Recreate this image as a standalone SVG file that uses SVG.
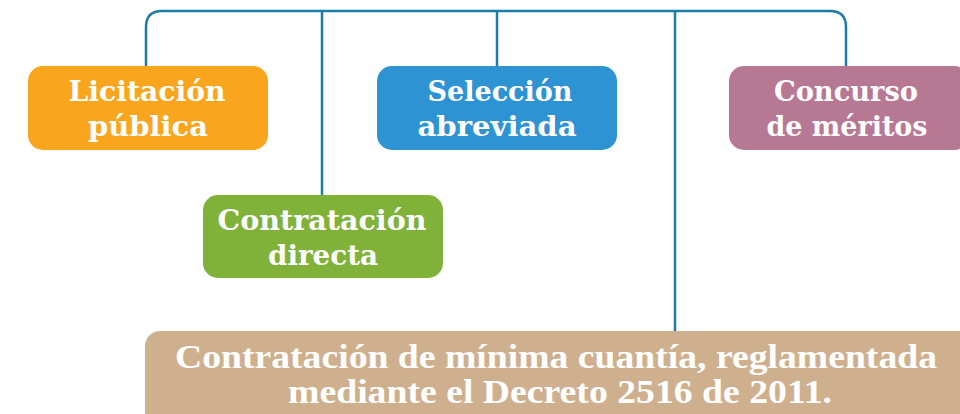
<svg xmlns="http://www.w3.org/2000/svg" width="960" height="414" viewBox="0 0 960 414">
<style>
.c{fill:none;stroke:#1B7CA6;stroke-width:2.5}
.t{font-family:"DejaVu Serif","Liberation Serif",serif;font-weight:bold;font-size:28px;fill:#fff;text-anchor:middle}
.b{font-family:"Liberation Serif","DejaVu Serif",serif;font-weight:bold;font-size:34px;fill:#fff;text-anchor:middle}
</style>
<rect width="960" height="414" fill="#fff"/>
<g id="connectors">
<path class="c" d="M146,66 V27 Q146,11 162,11 H830 Q846,11 846,27 V66"/>
<path class="c" d="M322,11 V195"/>
<path class="c" d="M497,11 V66"/>
<path class="c" d="M675,11 V331"/>
</g>
<g id="licitacion">
<rect x="28" y="66" width="240" height="84" rx="15" fill="#F9A61E"/>
<text class="t" x="147" y="101" textLength="157" lengthAdjust="spacingAndGlyphs">Licitación</text>
<text class="t" x="148" y="136" textLength="120" lengthAdjust="spacingAndGlyphs">pública</text>
</g>
<g id="seleccion">
<rect x="377" y="66" width="240" height="84" rx="15" fill="#2E93D2"/>
<text class="t" x="500" y="101" textLength="145" lengthAdjust="spacingAndGlyphs">Selección</text>
<text class="t" x="497" y="136" textLength="159" lengthAdjust="spacingAndGlyphs">abreviada</text>
</g>
<g id="concurso">
<rect x="729" y="66" width="240" height="84" rx="15" fill="#B77894"/>
<text class="t" x="846" y="101" textLength="144" lengthAdjust="spacingAndGlyphs">Concurso</text>
<text class="t" x="847" y="136" textLength="161" lengthAdjust="spacingAndGlyphs">de méritos</text>
</g>
<g id="directa">
<rect x="203" y="195" width="240" height="83" rx="15" fill="#80B23A"/>
<text class="t" x="322" y="230" textLength="209" lengthAdjust="spacingAndGlyphs">Contratación</text>
<text class="t" x="323" y="265" textLength="110" lengthAdjust="spacingAndGlyphs">directa</text>
</g>
<g id="minima">
<rect x="145" y="331" width="830" height="100" rx="15" fill="#CFB08E"/>
<text class="b" x="556" y="368" textLength="762" lengthAdjust="spacingAndGlyphs">Contratación de mínima cuantía, reglamentada</text>
<text class="b" x="560" y="403" textLength="544" lengthAdjust="spacingAndGlyphs">mediante el Decreto 2516 de 2011.</text>
</g>
</svg>
